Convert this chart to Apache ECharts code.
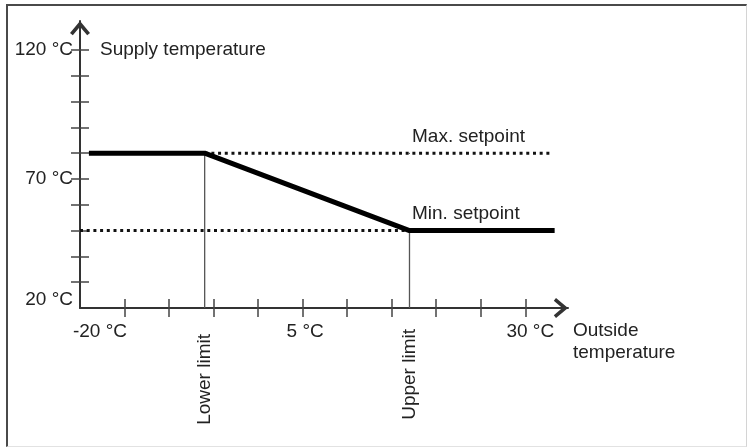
<!DOCTYPE html>
<html>
<head>
<meta charset="utf-8">
<script src="https://cdn.jsdelivr.net/npm/echarts@6/dist/echarts.min.js"></script>
<style>
  html, body { margin: 0; padding: 0; background: #fff; }
  #chart { position: absolute; left: 0; top: 0; width: 749px; height: 448px; }
  #frame {
    position: absolute; left: 6px; top: 4px; width: 738px; height: 440px;
    border-left: 2px solid #4a4a4a; border-top: 2px solid #4a4a4a;
    border-right: 1px solid #d4d4d4; border-bottom: 1px solid #e2e2e2;
    pointer-events: none;
  }
</style>
</head>
<body>
<div id="chart"></div>
<div id="frame"></div>
<script>
// axis ticks / labels
const xTickValues = [-15, -10, -5, 0, 5, 10, 15, 20, 25, 30];
const xLabelValues = [-20, 5, 30];
const yTickValues = [30, 40, 50, 60, 70, 80, 90, 100, 110, 120];
const yLabelValues = [20, 70, 120];

// heating curve
const lowerLimit = -6;
const upperLimit = 17;
const maxSetpoint = 80;
const minSetpoint = 50;
const curveX = [-19, -6, 17, 33.3];
const curveY = [80, 80, 50, 50];
const maxSetpointX = [-6, 17, 33];
const minSetpointX = [-20, 17];
const limitNames = ["Lower limit", "Upper limit"];

const font = "Liberation Sans, Arial, sans-serif";
const textColor = "#222";
const axisColor = "#333";
// open chevron, pointing up (rotated by the axis)
const arrowPath = "path://M0,12L10,0L20,12L17.2,14.2L10,5.7L2.8,14.2Z";
const tickStyle = { color: "#444", width: 1.5 };
const txt = { fontSize: 19, fontFamily: font, color: textColor };

const chart = echarts.init(document.getElementById("chart"), null, { renderer: "canvas" });

function setpointData(xs, y, text) {
  return xs.map(function (x) {
    if (x === upperLimit) {
      return { value: [x, y], symbol: "circle", symbolSize: 1, label: { show: true, formatter: text } };
    }
    return [x, y];
  });
}

chart.setOption({
  animation: false,
  backgroundColor: "#fff",
  grid: { left: 80, right: 181, top: 21, bottom: 140, containLabel: false, outerBoundsMode: "none" },
  xAxis: [
    {
      type: "value", min: -20, max: 34.8, position: "bottom",
      axisLine: {
        show: true, onZero: false,
        symbol: ["none", arrowPath], symbolSize: [20, 14.2], symbolOffset: [0, -7.1],
        lineStyle: { color: axisColor, width: 2 }
      },
      axisTick: { show: true, customValues: xTickValues, length: 9, lineStyle: tickStyle },
      axisLabel: Object.assign({
        show: true, customValues: xLabelValues, margin: 14,
        formatter: function (v) {
          const key = v === -20 ? "a" : v === 5 ? "b" : "c";
          return "{" + key + "|" + v + " °C}";
        },
        rich: {
          a: { padding: [0, 0, 0, 40] },
          b: { padding: [0, 0, 0, 5] },
          c: { padding: [0, 0, 0, 10] }
        }
      }, txt),
      splitLine: { show: false },
      name: "Outside\ntemperature", nameLocation: "end", nameGap: 5,
      nameTextStyle: Object.assign({ align: "left", verticalAlign: "top", lineHeight: 22, padding: [12, 0, 0, 0] }, txt)
    },
    {
      type: "value", min: -20, max: 34.8, position: "bottom",
      axisLine: { show: false, onZero: false },
      axisTick: { show: true, inside: true, customValues: xTickValues, length: 9, lineStyle: tickStyle },
      axisLabel: Object.assign({
        show: true, customValues: [lowerLimit, upperLimit], rotate: 90, margin: 21,
        formatter: function (v) {
          return v === lowerLimit ? "{lo|" + limitNames[0] + "}" : limitNames[1];
        },
        rich: { lo: { padding: [0, 5, 0, 0] } }
      }, txt),
      splitLine: { show: false }
    }
  ],
  yAxis: [
    {
      type: "value", min: 20, max: 131.2, position: "left",
      axisLine: {
        show: true, onZero: false,
        symbol: ["none", arrowPath], symbolSize: [20, 14.2], symbolOffset: [0, -7.1],
        lineStyle: { color: axisColor, width: 2 }
      },
      axisTick: { show: true, customValues: yTickValues, length: 9, lineStyle: tickStyle },
      axisLabel: Object.assign({
        show: true, customValues: yLabelValues, margin: 7,
        formatter: function (v) {
          return v === 20 ? "{lo|20 °C}" : v + " °C";
        },
        rich: { lo: { padding: [0, 0, 16, 0] } }
      }, txt),
      splitLine: { show: false },
      name: "Supply temperature", nameLocation: "end", nameGap: -29,
      nameTextStyle: Object.assign({ align: "left", verticalAlign: "middle", padding: [0, 0, 0, 20] }, txt)
    },
    {
      type: "value", min: 20, max: 131.2, position: "left", offset: 0,
      axisLine: { show: false, onZero: false },
      axisTick: { show: true, inside: true, customValues: yTickValues, length: 9, lineStyle: tickStyle },
      axisLabel: { show: false },
      splitLine: { show: false }
    }
  ],
  series: [
    {
      type: "line", name: "Lower limit", silent: true, symbol: "none", z: 1,
      data: [[lowerLimit, 20], [lowerLimit, maxSetpoint]],
      lineStyle: { color: "#555", width: 1.3 }
    },
    {
      type: "line", name: "Upper limit", silent: true, symbol: "none", z: 1,
      data: [[upperLimit, 20], [upperLimit, minSetpoint]],
      lineStyle: { color: "#555", width: 1.3 }
    },
    {
      type: "line", name: "Max. setpoint", silent: true, symbol: "none", z: 2,
      data: setpointData(maxSetpointX, maxSetpoint, "Max. setpoint"),
      itemStyle: { color: "#111" },
      lineStyle: { color: "#111", width: 3, type: [3, 3.7] },
      label: Object.assign({ position: [3, -16], align: "left", verticalAlign: "middle" }, txt)
    },
    {
      type: "line", name: "Min. setpoint", silent: true, symbol: "none", z: 2,
      data: setpointData(minSetpointX, minSetpoint, "Min. setpoint"),
      itemStyle: { color: "#111" },
      lineStyle: { color: "#111", width: 3, type: [3, 3.7] },
      label: Object.assign({ position: [3, -16], align: "left", verticalAlign: "middle" }, txt)
    },
    {
      type: "line", name: "Heating curve", silent: true, symbol: "none", z: 3,
      data: curveX.map(function (x, i) { return [x, curveY[i]]; }),
      lineStyle: { color: "#000", width: 5 }
    }
  ]
});
</script>
</body>
</html>
